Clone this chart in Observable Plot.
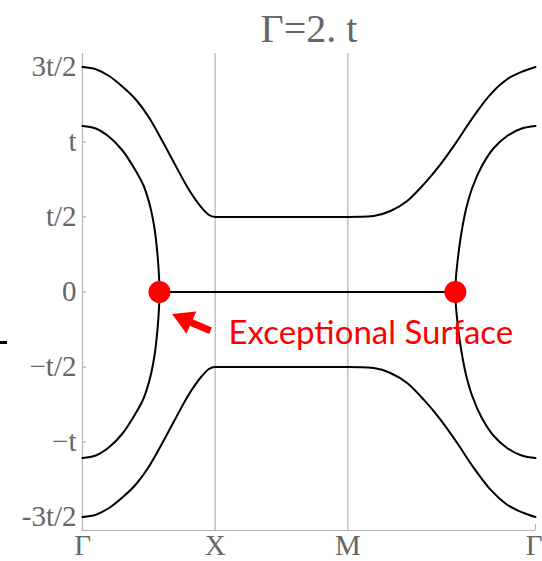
<!DOCTYPE html>
<html>
<head>
<meta charset="utf-8">
<script src="https://cdn.jsdelivr.net/npm/d3@7"></script>
<script src="https://cdn.jsdelivr.net/npm/@observablehq/plot@0.6"></script>
<style>
  html, body { margin: 0; padding: 0; background: #fff; }
  #chart { position: relative; width: 542px; height: 561px; }
  #dash { position: absolute; left: 0; top: 341px; width: 7px; height: 3px; background: #000; }
</style>
</head>
<body>
<div id="chart"><div id="dash"></div></div>
<script>
// High-symmetry path: Γ → X → M → Γ (M–Γ runs along the diagonal, length √2)
const pathLabels = ["Γ", "X", "M", "Γ"];
const pathPositions = [0, 1, 2, 2 + Math.SQRT2];

// Energy ticks in units of t
const energyTicks = [1.5, 1, 0.5, 0, -0.5, -1, -1.5];
const energyLabels = ["3t/2", "t", "t/2", "0", "−t/2", "−t", "-3t/2"];

// Real part of the bands, [k along path, E/t]
const outerUpper = [
  [0, 1.5], [0.1, 1.485], [0.2, 1.44], [0.3, 1.37], [0.4, 1.285], [0.5, 1.165],
  [0.6, 1.01], [0.7, 0.845], [0.8, 0.685], [0.9, 0.56], [0.95, 0.515], [1.0, 0.5],
  [1.5, 0.5], [2.0, 0.5], [2.1, 0.501], [2.195, 0.507], [2.321, 0.54], [2.447, 0.607],
  [2.572, 0.718], [2.698, 0.851], [2.824, 1.007], [2.949, 1.173], [3.075, 1.318],
  [3.2, 1.418], [3.326, 1.473], [3.414, 1.5]
];
const outerLower = [
  [0, -1.5], [0.1, -1.485], [0.2, -1.44], [0.3, -1.37], [0.4, -1.285], [0.5, -1.165],
  [0.6, -1.01], [0.7, -0.845], [0.8, -0.685], [0.9, -0.56], [0.95, -0.515], [1.0, -0.5],
  [1.5, -0.5], [2.0, -0.5], [2.1, -0.501], [2.195, -0.507], [2.321, -0.54], [2.447, -0.607],
  [2.572, -0.718], [2.698, -0.851], [2.824, -1.007], [2.949, -1.173], [3.075, -1.318],
  [3.2, -1.418], [3.326, -1.473], [3.414, -1.5]
];
// Inner pair near Γ (left): upper branch down to the exceptional point, then lower branch back
const innerLeft = [
  [0, 1.107], [0.1, 1.09], [0.2, 1.035], [0.3, 0.945], [0.4, 0.81], [0.46, 0.71],
  [0.51, 0.57], [0.545, 0.41], [0.566, 0.24], [0.577, 0.1], [0.58, 0],
  [0.577, -0.1], [0.566, -0.24], [0.545, -0.41], [0.51, -0.57], [0.46, -0.71],
  [0.4, -0.81], [0.3, -0.945], [0.2, -1.035], [0.1, -1.09], [0, -1.107]
];
// Inner pair near Γ (right end of the path)
const innerRight = [
  [3.414, 1.107], [3.31, 1.09], [3.2, 1.04], [3.1, 0.96], [3.01, 0.84], [2.94, 0.7],
  [2.89, 0.55], [2.855, 0.39], [2.83, 0.23], [2.815, 0.1], [2.81, 0],
  [2.815, -0.1], [2.83, -0.23], [2.855, -0.39], [2.89, -0.55], [2.94, -0.7],
  [3.01, -0.84], [3.1, -0.96], [3.2, -1.04], [3.31, -1.09], [3.414, -1.107]
];
// Coalesced (purely imaginary) region between the exceptional points
const zeroBand = [[0.58, 0], [2.81, 0]];

// Exceptional points
const exceptionalPoints = [[0.58, 0], [2.81, 0]];

const toRows = (band, pts) => pts.map(([k, E]) => ({band, k, E}));
const outerRows = [...toRows("outerUpper", outerUpper), ...toRows("outerLower", outerLower), ...toRows("zero", zeroBand)];
const innerRows = [...toRows("innerLeft", innerLeft), ...toRows("innerRight", innerRight)];

const kMax = pathPositions[pathPositions.length - 1];
const eMin = -1.59, eMax = 1.59;
const gray = "#b3b3b3";
const labelColor = "#666";

// Annotation anchor points (data coordinates)
const arrowTail = {k: 0.965, E: -0.258};
const arrowHead = {k: 0.772, E: -0.185};
const noteAt = {k: 1.1, E: -0.275};

const xLabel = (d) => pathLabels[pathPositions.indexOf(d)];

const chart = Plot.plot({
  width: 542,
  height: 561,
  marginLeft: 82,
  marginRight: 7,
  marginTop: 53,
  marginBottom: 31,
  style: {fontFamily: "Liberation Serif, serif", background: "#fff"},
  x: {domain: [0, kMax]},
  y: {domain: [eMin, eMax]},
  marks: [
    // vertical lines at X and M
    Plot.ruleX([pathPositions[1], pathPositions[2]], {stroke: gray, strokeWidth: 1.2}),
    // frame: left and bottom axes
    Plot.ruleX([0], {stroke: gray, strokeWidth: 1.2}),
    Plot.ruleY([eMin], {stroke: gray, strokeWidth: 1.2}),
    // inward ticks
    Plot.ruleY(energyTicks, {x1: 0, x2: 0.03, stroke: gray, strokeWidth: 1.2}),
    Plot.ruleX([kMax], {y1: eMin, y2: eMin + 0.04, stroke: gray, strokeWidth: 1.2}),
    Plot.axisY({
      ticks: energyTicks, tickSize: 0, tickPadding: 6, fontSize: 29,
      tickFormat: (d) => energyLabels[energyTicks.indexOf(d)], fill: labelColor, label: null
    }),
    Plot.axisX({
      ticks: pathPositions.slice(0, 3), tickSize: 0, tickPadding: 4, fontSize: 29,
      tickFormat: xLabel, fill: labelColor, label: null
    }),
    // the closing Γ sits against the right edge
    Plot.axisX({
      ticks: [kMax], tickSize: 0, tickPadding: 4, fontSize: 29, textAnchor: "end", dx: 7,
      tickFormat: xLabel, fill: labelColor, label: null
    }),
    // bands: single-valued ones as functions of k, the inner loops through their exceptional points
    Plot.line(outerRows, {x: "k", y: "E", z: "band", curve: "monotone-x", stroke: "#000", strokeWidth: 2}),
    Plot.line(innerRows, {x: "k", y: "E", z: "band", curve: "catmull-rom", stroke: "#000", strokeWidth: 2}),
    // exceptional points
    Plot.dot(exceptionalPoints, {x: "0", y: "1", r: 11, fill: "#ff0000", stroke: "none"}),
    // annotation arrow
    Plot.link([0], {x1: arrowTail.k, y1: arrowTail.E, x2: arrowHead.k, y2: arrowHead.E, stroke: "#ff0000", strokeWidth: 7}),
    Plot.dot([0], {x: arrowHead.k, y: arrowHead.E, symbol: "triangle", r: 9, rotate: -66, fill: "#ff0000", stroke: "none"}),
    Plot.text(["Exceptional Surface"], {
      x: noteAt.k, y: noteAt.E, textAnchor: "start", lineAnchor: "middle",
      fontSize: 33, fill: "#ff0000", fontFamily: "Lato, sans-serif"
    }),
    // title
    Plot.text(["Γ=2. t"], {frameAnchor: "top", dy: -12, lineAnchor: "bottom", fontSize: 40, fill: labelColor})
  ]
});
document.getElementById("chart").appendChild(chart);
</script>
</body>
</html>
